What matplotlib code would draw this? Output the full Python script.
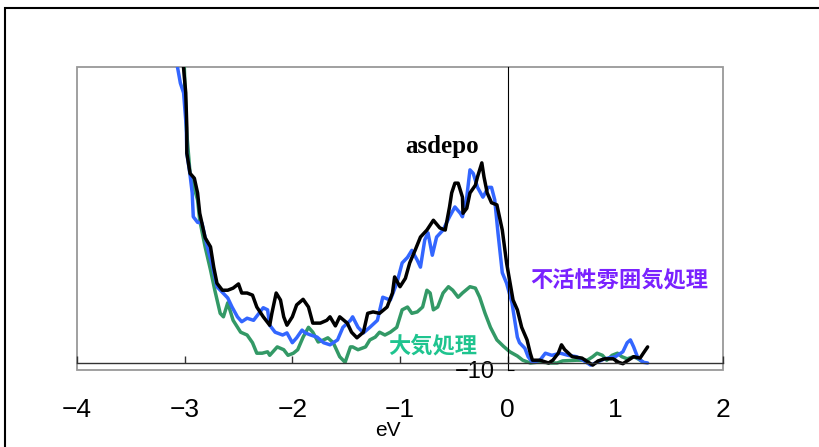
import matplotlib
matplotlib.use("Agg")
import matplotlib.pyplot as plt
import numpy as np
from matplotlib.patches import Rectangle

plt.rcParams['font.family'] = ['Liberation Sans', 'Noto Sans CJK JP']

# asdepo (black)
x_asdepo = [-3.015, -2.99, -2.98, -2.98, -2.95, -2.91, -2.88, -2.86, -2.81, -2.76,
            -2.73, -2.70, -2.65, -2.60, -2.55, -2.50, -2.47, -2.42, -2.37, -2.33,
            -2.27, -2.21, -2.19, -2.15, -2.11, -2.08, -2.05, -2.00, -1.96, -1.90,
            -1.85, -1.81, -1.74, -1.68, -1.65, -1.60, -1.56, -1.49, -1.45, -1.40,
            -1.34, -1.30, -1.25, -1.19, -1.12, -1.07, -1.05, -1.00, -0.95, -0.91,
            -0.86, -0.81, -0.75, -0.69, -0.63, -0.58, -0.54, -0.52, -0.49, -0.46,
            -0.42, -0.415, -0.38, -0.35, -0.30, -0.28, -0.24, -0.22, -0.19, -0.15,
            -0.10, -0.05, -0.01, 0.05, 0.09, 0.13, 0.18, 0.21, 0.23, 0.30,
            0.38, 0.42, 0.47, 0.50, 0.53, 0.60, 0.69, 0.75, 0.79, 0.84,
            0.90, 0.98, 1.03, 1.07, 1.12, 1.17, 1.23, 1.26, 1.30]
y_asdepo = [430, 386, 337, 300, 271, 264, 243, 214, 179, 166,
            137, 114, 104, 104, 107, 113, 100, 100, 97, 80,
            66, 54, 71, 100, 90, 66, 54, 66, 83, 91,
            80, 57, 57, 61, 66, 53, 66, 57, 44, 36,
            44, 71, 73, 71, 80, 100, 123, 109, 121, 143,
            161, 180, 190, 204, 193, 190, 223, 243, 257, 257,
            237, 214, 221, 243, 254, 266, 286, 266, 243, 229,
            226, 190, 143, 90, 76, 51, 33, 14, 4, 4,
            0, 4, 14, 26, 19, 9, 7, 1, -3, 3,
            6, 6, 1, -1, 4, 9, 7, 14, 23]

# 不活性雰囲気処理 (blue)
x_inert = [-3.075, -3.04, -3.01, -2.985, -2.98, -2.95, -2.93, -2.92, -2.88, -2.84,
           -2.79, -2.74, -2.70, -2.65, -2.60, -2.56, -2.51, -2.47, -2.42, -2.36,
           -2.32, -2.27, -2.23, -2.21, -2.16, -2.09, -2.05, -2.00, -1.96, -1.91,
           -1.88, -1.83, -1.77, -1.71, -1.65, -1.58, -1.53, -1.46, -1.44, -1.39,
           -1.34, -1.28, -1.21, -1.16, -1.09, -1.03, -0.98, -0.93, -0.89, -0.84,
           -0.81, -0.77, -0.74, -0.70, -0.66, -0.60, -0.54, -0.49, -0.44, -0.42,
           -0.38, -0.35, -0.32, -0.28, -0.23, -0.18, -0.15, -0.12, -0.09, -0.05,
           -0.01, 0.04, 0.09, 0.11, 0.16, 0.19, 0.23, 0.30, 0.35, 0.41,
           0.49, 0.56, 0.64, 0.70, 0.77, 0.83, 0.90, 1.00, 1.07, 1.11,
           1.14, 1.17, 1.21, 1.26, 1.30]
y_inert = [430, 400, 386, 337, 300, 269, 243, 209, 201, 200,
           166, 137, 109, 101, 93, 80, 66, 59, 64, 61,
           69, 79, 76, 54, 44, 40, 43, 29, 36, 47,
           43, 40, 37, 29, 26, 33, 51, 61, 66, 51,
           43, 51, 61, 94, 90, 114, 143, 151, 161, 147,
           137, 176, 186, 154, 180, 190, 209, 223, 214, 209,
           237, 276, 271, 251, 237, 251, 251, 233, 186, 129,
           114, 86, 37, 29, 21, 9, 1, 4, 14, 11,
           14, 11, 9, 4, -3, 1, 6, 9, 16, 29,
           33, 23, 7, 1, 0]

# 大気処理 (green)
x_air = [-3.005, -2.985, -2.95, -2.88, -2.86, -2.81, -2.76, -2.72, -2.67, -2.64,
         -2.60, -2.55, -2.48, -2.42, -2.37, -2.33, -2.28, -2.23, -2.21, -2.14,
         -2.08, -2.04, -1.99, -1.95, -1.90, -1.85, -1.81, -1.76, -1.71, -1.67,
         -1.62, -1.56, -1.51, -1.46, -1.44, -1.39, -1.32, -1.28, -1.23, -1.19,
         -1.14, -1.09, -1.03, -0.98, -0.93, -0.89, -0.84, -0.79, -0.75, -0.72,
         -0.69, -0.65, -0.60, -0.55, -0.51, -0.46, -0.42, -0.35, -0.30, -0.26,
         -0.21, -0.16, -0.10, -0.04, 0.02, 0.09, 0.14, 0.21, 0.27, 0.33,
         0.39, 0.46, 0.51, 0.64, 0.74, 0.79, 0.83, 0.88, 0.92, 0.97,
         1.02, 1.06, 1.11, 1.17, 1.21, 1.26]
y_air = [430, 337, 271, 233, 204, 166, 133, 104, 71, 66,
         86, 61, 44, 40, 29, 14, 14, 16, 11, 23,
         19, 11, 14, 19, 37, 51, 44, 30, 33, 36,
         29, 9, 1, 23, 23, 19, 23, 33, 37, 44,
         40, 44, 51, 76, 80, 71, 73, 80, 104, 100,
         76, 80, 100, 109, 104, 94, 100, 109, 107, 94,
         71, 51, 33, 24, 16, 10, 4, 0, 1, 1,
         0, 0, 3, 4, 4, 9, 14, 11, 4, 11,
         14, 9, 6, 9, 6, 1]

x_ticks = [-4, -3, -2, -1, 0, 1, 2]

fig = plt.figure(figsize=(8.19, 4.47), dpi=100)
ax = fig.add_axes([77/819, 1 - 370/447, 646/819, 303/447])

style = dict(lw=2.5, solid_joinstyle='round', solid_capstyle='round')
ax.plot(x_air, y_air, color='#339966', **style)
ax.plot(x_inert, y_inert, color='#3366ff', **style)
ax.plot(x_asdepo, y_asdepo, color='black', **style)

ax.set_xlim(-4, 2)
ax.set_ylim(-10, 423)

# frame
for s in ['top', 'right']:
  ax.spines[s].set_visible(False)
ax.add_patch(Rectangle((0, 0), 1, 1, transform=ax.transAxes, fill=False,
                       edgecolor='#999999', lw=1.3, clip_on=False, zorder=1.5))

ax.spines['bottom'].set_position(('data', 0))
ax.spines['bottom'].set_color('#333333')
ax.spines['bottom'].set_linewidth(1.0)
ax.spines['left'].set_position(('data', 0))
ax.spines['left'].set_color('black')
ax.spines['left'].set_linewidth(0.8)

ax.set_xticks(x_ticks)
ax.tick_params(axis='x', direction='in', length=5, width=1, color='#333333',
               pad=25, labelsize=19)
ax.set_yticks([-10])
ax.set_yticklabels(['\u221210'])
ax.tick_params(axis='y', direction='in', length=4, width=0.8, pad=9, labelsize=17)

fig.text(388/819, 1 - 431/447, 'eV', ha='center', va='center', fontsize=15)

ax.text(-0.61, 310, 'asdepo', family='Liberation Serif', fontweight='bold',
        fontsize=18, ha='center', va='center')
ax.text(1.04, 119, '不活性雰囲気処理', family='Noto Sans CJK JP', fontweight='bold',
        fontsize=16, color='#7a22ff', ha='center', va='center')
ax.text(-0.70, 24, '大気処理', family='Noto Sans CJK JP', fontweight='bold',
        fontsize=16, color='#1fc48f', ha='center', va='center')

fig.patches.append(Rectangle((5/819, -0.05), 1.1, 1.05 - 8/447,
                             transform=fig.transFigure, fill=False,
                             edgecolor='black', lw=1.5))

fig.savefig('out.png', dpi=100)
